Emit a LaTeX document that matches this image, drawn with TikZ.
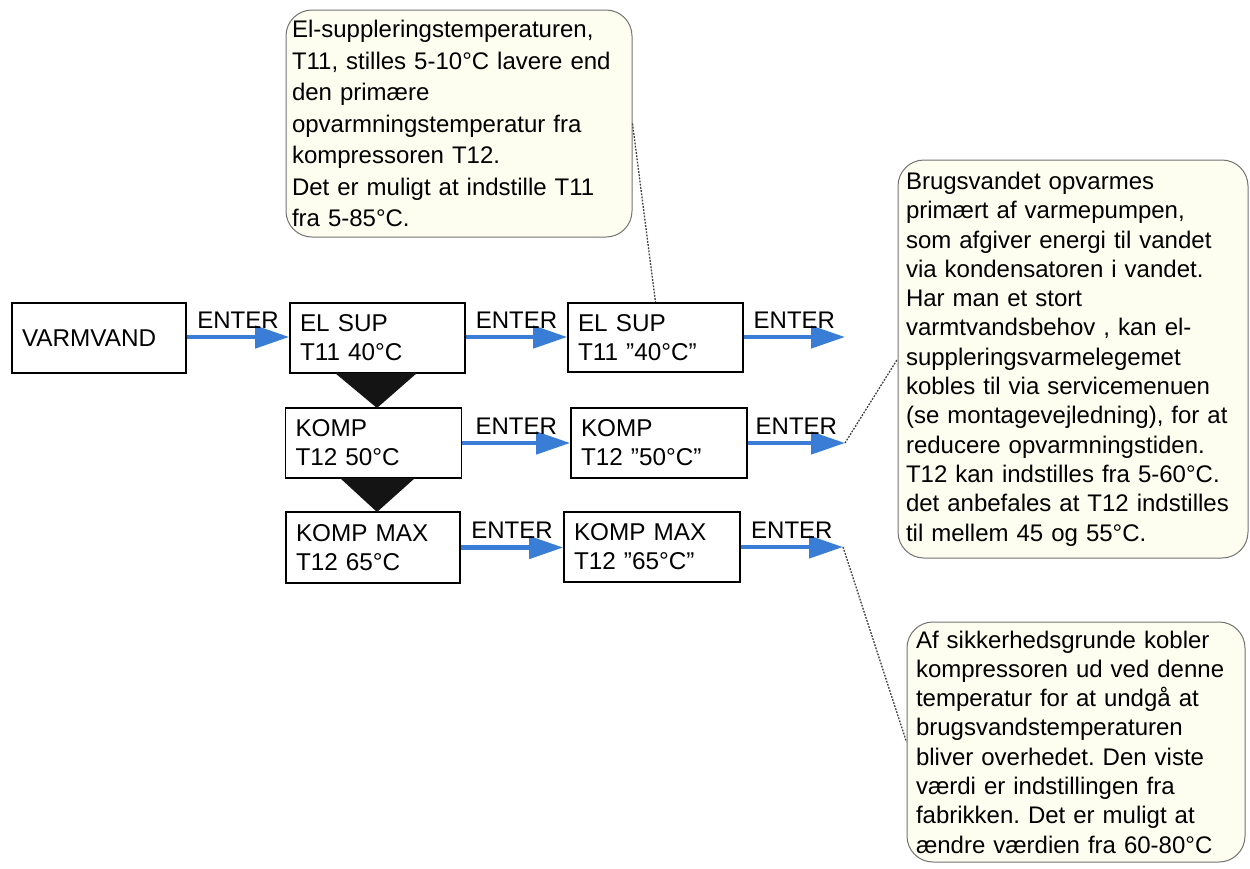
\documentclass[tikz,border=0pt]{standalone}
\usepackage{fontspec}
\setmainfont{Liberation Sans}
\usetikzlibrary{arrows.meta}
\definecolor{arrblue}{RGB}{58,125,214}
\definecolor{notefill}{RGB}{253,253,240}
\definecolor{notedraw}{RGB}{115,115,115}
\frenchspacing
\begin{document}
\begin{tikzpicture}[x=1pt,y=-1pt,
  menubox/.style={draw=black, line width=1.6pt, fill=white, align=left, inner xsep=10pt, inner ysep=0pt,
    font=\fontsize{24.3}{29}\selectfont},
  arr/.style={draw=arrblue, line width=4.5pt, -{Triangle[length=34pt,width=22pt]}},
  lbl/.style={anchor=base, yshift=9pt, font=\fontsize{24}{29}\selectfont, inner sep=0pt},
  note/.style={draw=notedraw, line width=1pt, fill=notefill, rounded corners=26pt, align=left,
    inner xsep=6pt, inner ysep=0pt},
  conn/.style={draw=black!75, line width=1.3pt, dash pattern=on 1.8pt off 1.4pt}]
\useasboundingbox (0,0) rectangle (1250,868);
% boxes
\node[menubox, minimum width=174pt, minimum height=70pt, text width=154pt] (varm) at (99,338) {VARMVAND};
\node[menubox, minimum width=175pt, minimum height=70pt, text width=155pt] (e1) at (377.5,338) {EL SUP\\T11 40°C};
\node[menubox, minimum width=176pt, minimum height=70pt, text width=156pt] (k1) at (373.5,443) {KOMP\\T12 50°C};
\node[menubox, minimum width=174pt, minimum height=71pt, text width=154pt] (m1) at (373,547.5) {KOMP MAX\\T12 65°C};
\node[menubox, minimum width=175pt, minimum height=69pt, text width=155pt] (e2) at (655.5,337.5) {EL SUP\\T11 ”40°C”};
\node[menubox, minimum width=176pt, minimum height=70pt, text width=156pt] (k2) at (659,443) {KOMP\\T12 ”50°C”};
\node[menubox, minimum width=176pt, minimum height=70pt, text width=156pt] (m2) at (652,547) {KOMP MAX\\T12 ”65°C”};
% triangles
\fill[black!92] (335,373) -- (417,373) -- (377,408) -- cycle;
\fill[black!92] (340,478) -- (415,478) -- (377,512) -- cycle;
% free ends
\coordinate (c1) at (845,337);
\coordinate (c2) at (845,443);
\coordinate (c3) at (843,547);
% arrows
\draw[arr] (varm.east |- 0,337) -- (e1.west |- 0,337) node[lbl, midway] {ENTER};
\draw[arr] (e1.east |- 0,337) -- (e2.west |- 0,337) node[lbl, midway] {ENTER};
\draw[arr] (e2.east |- c1) -- (c1) node[lbl, midway] {ENTER};
\draw[arr] (k1.east) -- (k2.west) node[lbl, midway] {ENTER};
\draw[arr] (k2.east) -- (c2) node[lbl, midway] {ENTER};
\draw[arr] (m1.east) -- (m2.west |- m1.east) node[lbl, midway] {ENTER};
\draw[arr] (m2.east) -- (c3) node[lbl, midway] {ENTER};
% notes
\node[note, minimum width=346pt, minimum height=227pt, text width=334pt, font=\fontsize{24}{31.5}\selectfont] (n1) at (459,123.5)
 {El-suppleringstemperaturen,\\T11, stilles 5-10°C lavere end\\den primære\\opvarmningstemperatur fra\\kompressoren T12.\\Det er muligt at indstille T11\\fra 5-85°C.};
\node[note, minimum width=350pt, minimum height=398pt, text width=334pt, font=\fontsize{24}{29.3}\selectfont] (n2) at (1073,359)
 {Brugsvandet opvarmes\\primært af varmepumpen,\\som afgiver energi til vandet\\via kondensatoren i vandet.\\Har man et stort\\varmtvandsbehov , kan el-\\suppleringsvarmelegemet\\kobles til via servicemenuen\\(se montagevejledning), for at\\reducere opvarmningstiden.\\T12 kan indstilles fra 5-60°C.\\det anbefales at T12 indstilles\\til mellem 45 og 55°C.};
\node[note, minimum width=338pt, minimum height=240pt, text width=320pt, font=\fontsize{24}{29.3}\selectfont] (n3) at (1076,742)
 {Af sikkerhedsgrunde kobler\\kompressoren ud ved denne\\temperatur for at undgå at\\brugsvandstemperaturen\\bliver overhedet. Den viste\\værdi er indstillingen fra\\fabrikken. Det er muligt at\\ændre værdien fra 60-80°C};
% connectors
\draw[conn] (n1.east) -- (e2.north);
\draw[conn] (c2) -- (n2.west);
\draw[conn] (c3) -- (n3.west);
\end{tikzpicture}
\end{document}
